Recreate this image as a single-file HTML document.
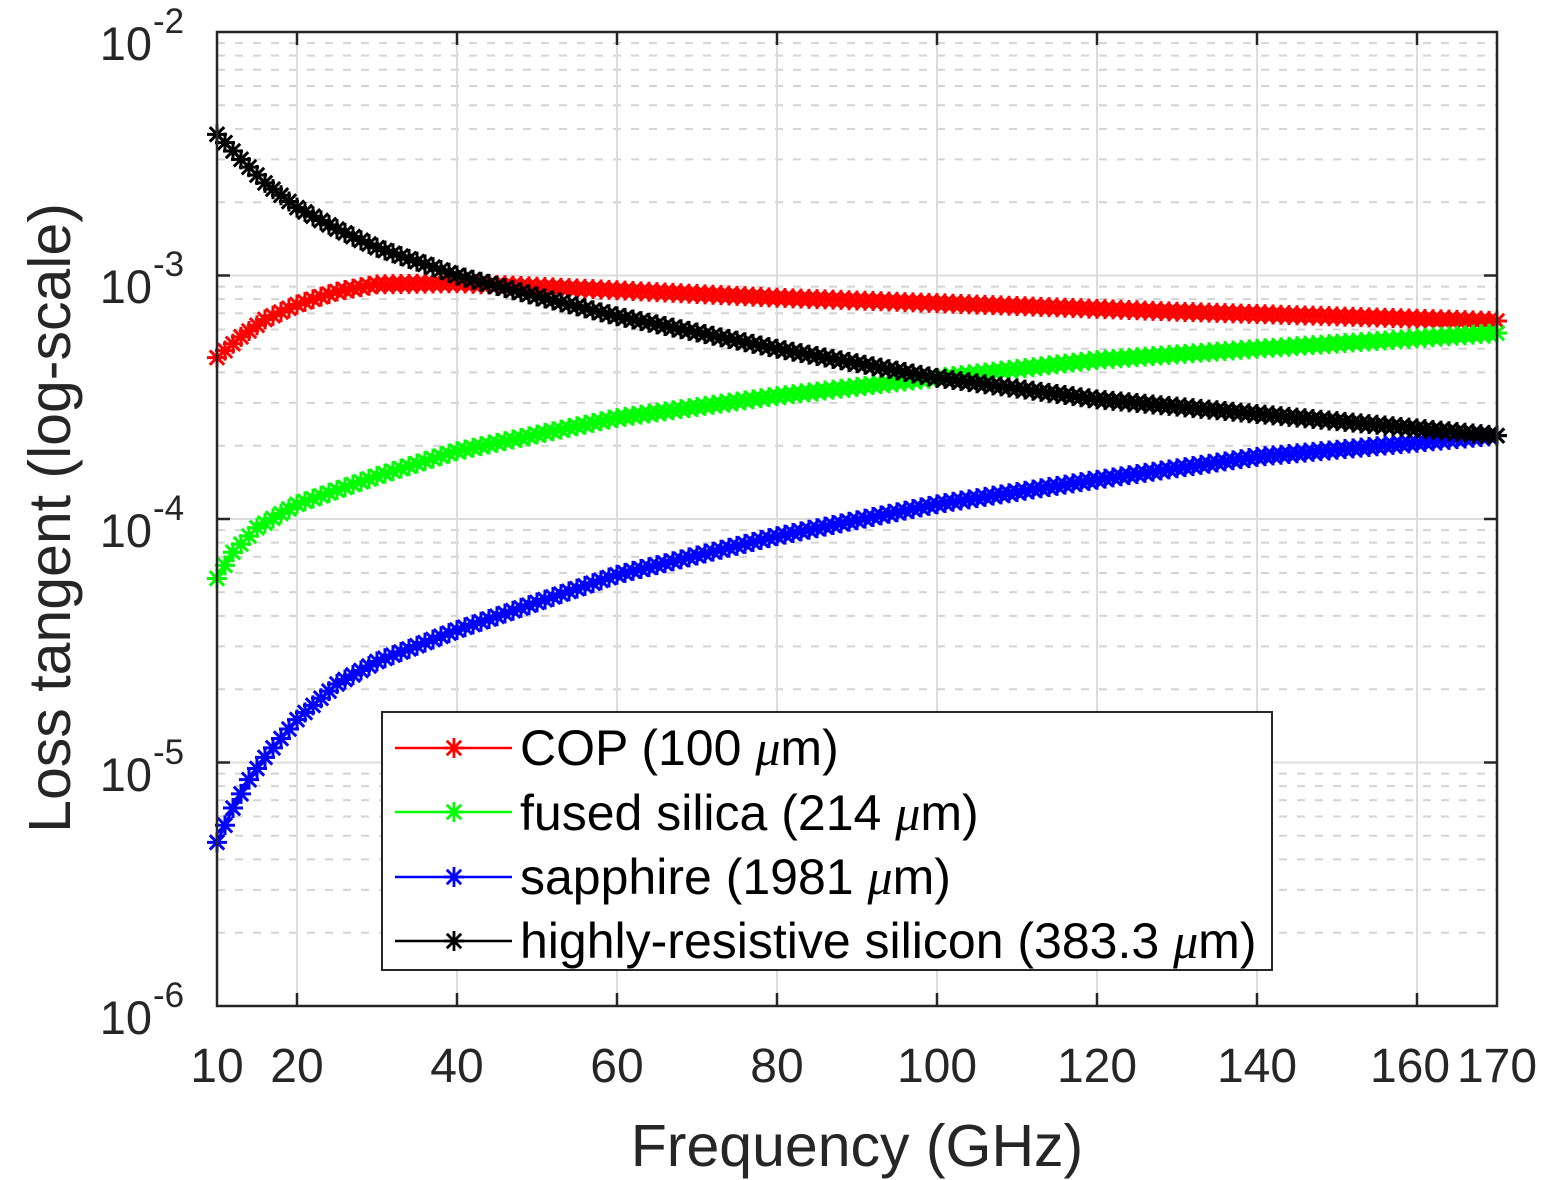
<!DOCTYPE html>
<html><head><meta charset="utf-8"><style>
html,body{margin:0;padding:0;background:#fff;}
svg{display:block;font-family:"Liberation Sans",Arial,sans-serif;}
</style></head><body>
<svg id="s" width="1544" height="1180" viewBox="0 0 1544 1180" xmlns="http://www.w3.org/2000/svg">
<rect width="1544" height="1180" fill="#fff"/>
<g id="grid"></g>
<g id="curves"></g>
<rect x="217" y="32" width="1280" height="974" fill="none" stroke="#262626" stroke-width="2.5"/>
<g id="ticks"></g>
<g font-size="48" fill="#262626" text-anchor="middle">
<text x="217" y="1082">10</text><text x="297" y="1082">20</text><text x="457" y="1082">40</text>
<text x="617" y="1082">60</text><text x="777" y="1082">80</text><text x="937" y="1082">100</text>
<text x="1097" y="1082">120</text><text x="1257" y="1082">140</text><text x="1410" y="1082">160</text><text x="1497" y="1082">170</text>
</g>
<g font-size="47" fill="#262626" text-anchor="end">
<text x="152" y="60">10</text><text x="152" y="303">10</text><text x="152" y="547">10</text><text x="152" y="791">10</text><text x="152" y="1034">10</text>
</g>
<g font-size="35" fill="#262626">
<text x="153" y="33">-2</text><text x="153" y="276">-3</text><text x="153" y="520">-4</text><text x="153" y="764">-5</text><text x="153" y="1007">-6</text>
</g>
<text x="857" y="1166" font-size="59" fill="#262626" text-anchor="middle">Frequency (GHz)</text>
<text transform="translate(70,518) rotate(-90)" font-size="59" fill="#262626" text-anchor="middle">Loss tangent (log-scale)</text>
<rect x="382" y="712" width="890" height="258" fill="#fff" stroke="#262626" stroke-width="2"/>
<g id="leg"></g>
<g font-size="50" fill="#000">
<text x="520" y="765">COP (100 <tspan font-family="Liberation Serif" font-style="italic">μ</tspan>m)</text>
<text x="520" y="830">fused silica (214 <tspan font-family="Liberation Serif" font-style="italic">μ</tspan>m)</text>
<text x="520" y="894">sapphire (1981 <tspan font-family="Liberation Serif" font-style="italic">μ</tspan>m)</text>
<text x="520" y="958">highly-resistive silicon (383.3 <tspan font-family="Liberation Serif" font-style="italic">μ</tspan>m)</text>
</g>
</svg>
<script>
var NS="http://www.w3.org/2000/svg";
function el(p,t,a){var e=document.createElementNS(NS,t);for(var k in a)e.setAttribute(k,a[k]);p.appendChild(e);return e;}
var X=function(f){return 217+(f-10)*8;};
var Y=function(v){return 32+(-2-Math.log10(v))*243.5;};
var g=document.getElementById('grid'),tk=document.getElementById('ticks');
for(var d=-6;d<-2;d++){for(var m=2;m<=9;m++){var y=Y(m*Math.pow(10,d));
el(g,'line',{x1:217,x2:1497,y1:y,y2:y,stroke:'#d4d4d4','stroke-width':2,'stroke-dasharray':'8,10'});}}
for(var d=-5;d<=-3;d++){var y=Y(Math.pow(10,d));el(g,'line',{x1:217,x2:1497,y1:y,y2:y,stroke:'#dcdcdc','stroke-width':2});
el(tk,'line',{x1:217,x2:230,y1:y,y2:y,stroke:'#262626','stroke-width':2.5});el(tk,'line',{x1:1484,x2:1497,y1:y,y2:y,stroke:'#262626','stroke-width':2.5});}
[20,40,60,80,100,120,140,160].forEach(function(f){var x=X(f);el(g,'line',{x1:x,x2:x,y1:32,y2:1006,stroke:'#dcdcdc','stroke-width':2});
el(tk,'line',{x1:x,x2:x,y1:993,y2:1006,stroke:'#262626','stroke-width':2.5});el(tk,'line',{x1:x,x2:x,y1:32,y2:45,stroke:'#262626','stroke-width':2.5});});
function interp(pts,f){for(var i=0;i<pts.length-1;i++){if(f<=pts[i+1][0]){var a=pts[i],b=pts[i+1],t=(f-a[0])/(b[0]-a[0]);
var la=Math.log10(a[1]),lb=Math.log10(b[1]);return Math.pow(10,la+t*(lb-la));}}return pts[pts.length-1][1];}
var S=[
['#ff0000',[[10,4.6e-4],[13,5.6e-4],[16,6.6e-4],[20,7.6e-4],[25,8.6e-4],[30,9.2e-4],[40,9.3e-4],[60,8.7e-4],[80,8.1e-4],[100,7.7e-4],[130,7.1e-4],[170,6.5e-4]]],
['#00ff00',[[10,5.7e-5],[12,7.3e-5],[15,9.2e-5],[20,1.15e-4],[30,1.5e-4],[40,1.9e-4],[60,2.6e-4],[80,3.2e-4],[100,3.8e-4],[120,4.5e-4],[140,5.0e-4],[170,5.8e-4]]],
['#0000ff',[[10,4.7e-6],[12,6.5e-6],[14,8.5e-6],[16,1.05e-5],[20,1.5e-5],[25,2.1e-5],[30,2.6e-5],[40,3.5e-5],[60,5.9e-5],[80,8.5e-5],[100,1.15e-4],[120,1.45e-4],[140,1.8e-4],[170,2.2e-4]]],
['#000000',[[10,3.8e-3],[13,3.0e-3],[16,2.4e-3],[20,1.9e-3],[25,1.55e-3],[30,1.3e-3],[40,1.0e-3],[50,8.2e-4],[60,6.8e-4],[80,5.0e-4],[100,3.8e-4],[120,3.1e-4],[140,2.7e-4],[170,2.2e-4]]]];
var c=document.getElementById('curves');
function star(p,x,y,col,r,w){var d='M'+(x-r)+' '+y+'h'+(2*r)+'M'+x+' '+(y-r)+'v'+(2*r);var q=r*0.72;
d+='M'+(x-q)+' '+(y-q)+'l'+(2*q)+' '+(2*q)+'M'+(x-q)+' '+(y+q)+'l'+(2*q)+' '+(-2*q);
el(p,'path',{d:d,stroke:col,'stroke-width':w,fill:'none'});}
S.forEach(function(s){var d='',pts=[];for(var f=10;f<=170;f+=1){var x=X(f),y=Y(interp(s[1],f));pts.push([x,y]);d+=(d?'L':'M')+x.toFixed(1)+' '+y.toFixed(1);}
el(c,'path',{d:d,stroke:s[0],'stroke-width':3,fill:'none'});pts.forEach(function(p){star(c,p[0],p[1],s[0],10,3);});});
var lg=document.getElementById('leg');var ly=[748,812,877,941];
S.forEach(function(s,i){el(lg,'line',{x1:395,x2:512,y1:ly[i],y2:ly[i],stroke:s[0],'stroke-width':2.5});star(lg,454,ly[i],s[0],10,2.8);});
</script>
</body></html>
